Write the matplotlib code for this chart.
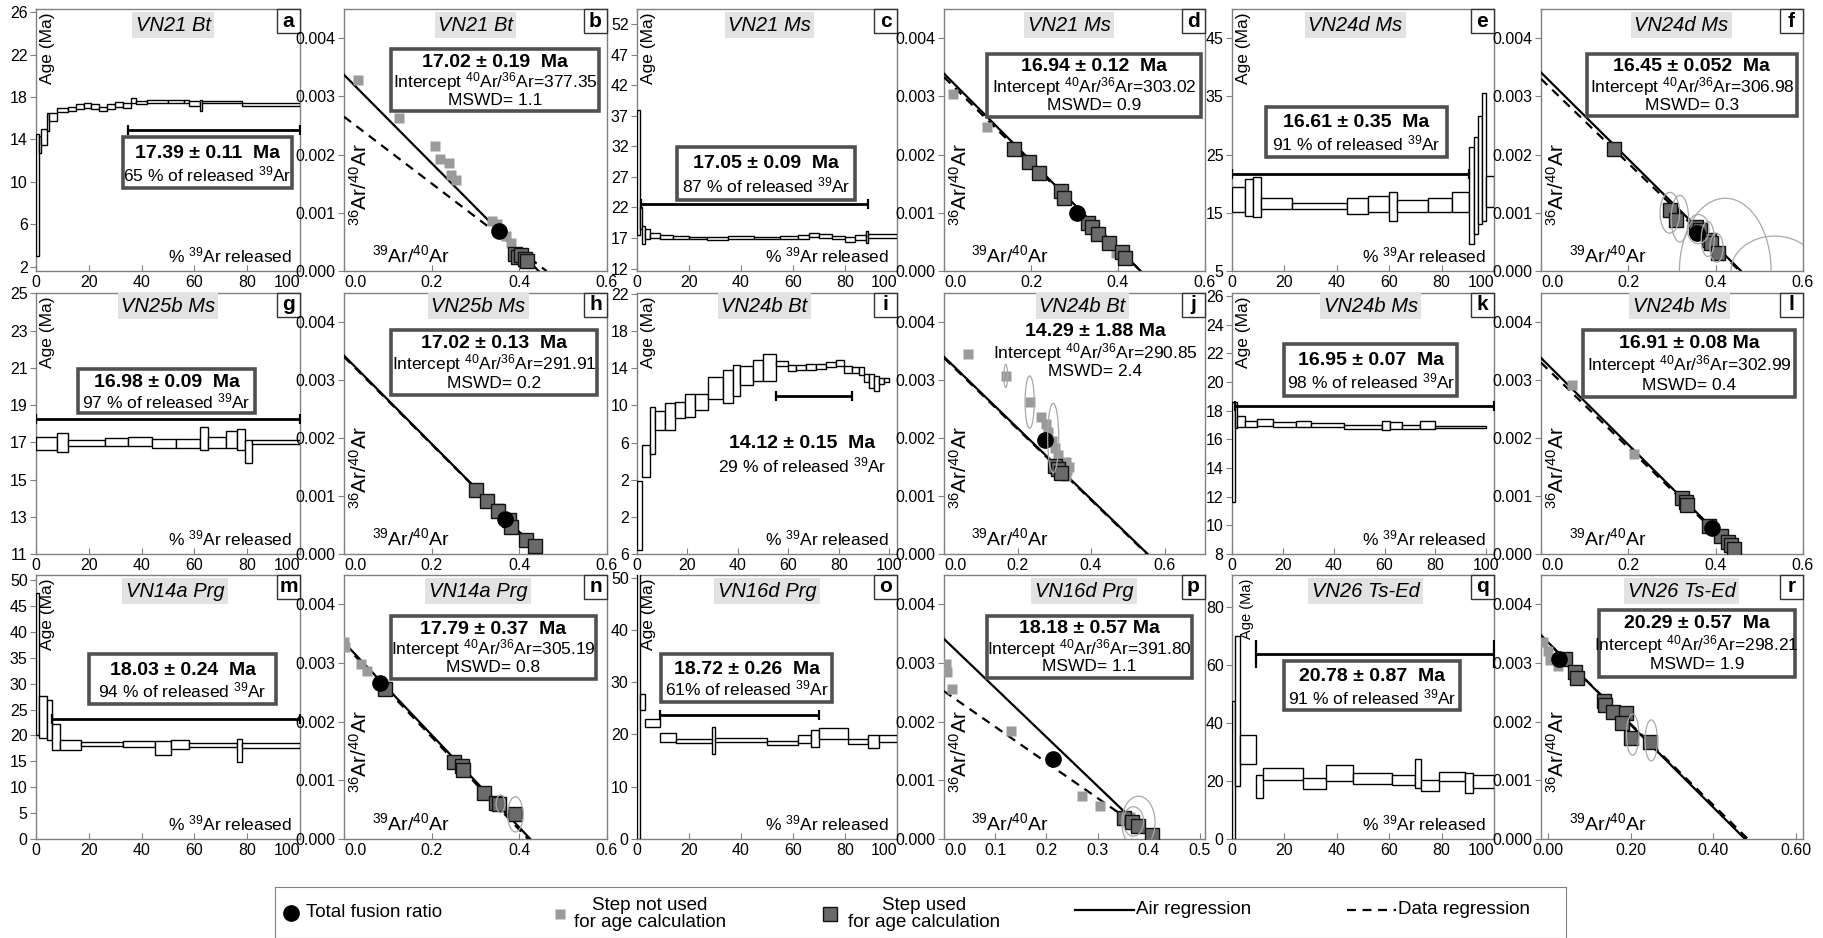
import matplotlib
matplotlib.use('Agg')
import matplotlib.pyplot as plt
from matplotlib.patches import Rectangle, Ellipse
from matplotlib.ticker import FuncFormatter, FormatStrFormatter
import numpy as np

FONT = 'Liberation Sans'
plt.rcParams['font.family'] = [FONT, 'DejaVu Sans']
plt.rcParams['mathtext.fontset'] = 'custom'
plt.rcParams['mathtext.rm'] = FONT
plt.rcParams['mathtext.it'] = FONT + ':italic'
plt.rcParams['mathtext.bf'] = FONT + ':bold'

# ---------------------------------------------------------------- data
# Step-heating spectra: cumulative % 39Ar edges, lower / upper age (Ma)
A_EDGES = [0, 1, 2, 4, 5, 8, 12, 15, 18, 21, 24, 27, 30, 33, 36, 38, 42, 50, 56, 58, 62, 63, 78, 100]
A_LO = [3.0, 12.7, 13.5, 14.8, 15.7, 16.6, 16.7, 16.9, 17.0, 16.9, 16.7, 16.9, 17.1, 17.0, 17.4, 17.3, 17.4, 17.45, 17.4, 17.2, 16.7, 17.4, 17.2]
A_HI = [14.5, 14.3, 15.0, 16.5, 16.5, 17.0, 17.1, 17.3, 17.4, 17.3, 17.1, 17.3, 17.5, 17.4, 17.9, 17.6, 17.7, 17.7, 17.7, 17.6, 17.7, 17.6, 17.4]
A_PLATEAU = [14.9, 35, 100]

C_EDGES = [0, 1, 2, 3, 5, 9, 14, 20, 27, 35, 45, 55, 62, 66, 70, 75, 80, 84, 88, 89, 100]
C_LO = [17.5, 18.5, 16.0, 16.8, 17.0, 16.9, 16.8, 16.8, 16.7, 16.8, 16.8, 16.9, 16.9, 17.1, 17.0, 16.8, 16.4, 16.7, 16.2, 17.0]
C_HI = [38.0, 22.0, 19.0, 18.5, 17.9, 17.5, 17.3, 17.2, 17.1, 17.3, 17.2, 17.3, 17.5, 17.9, 17.6, 17.4, 17.2, 17.5, 18.2, 17.6]
C_PLATEAU = [22.6, 1.5, 89]

E_EDGES = [0, 5, 8, 11, 23, 44, 52, 60, 63, 75, 84, 90.5, 92.5, 94, 95.5, 97, 100]
E_LO = [15.1, 14.5, 14.2, 15.6, 15.6, 14.8, 15.1, 13.6, 15.2, 15.2, 15.1, 9.6, 11.3, 13.0, 13.6, 16.0]
E_HI = [19.4, 20.8, 21.1, 17.5, 16.7, 17.5, 17.8, 18.5, 17.2, 17.6, 18.5, 26.3, 28.0, 31.7, 35.5, 21.3]
E_PLATEAU = [21.7, 0, 90.5]

G_EDGES = [0, 8, 12, 26, 35, 44, 53, 62, 65, 72, 76, 79, 82, 100]
G_LO = [16.6, 16.5, 16.8, 16.8, 16.8, 16.7, 16.7, 16.6, 16.7, 16.7, 16.6, 15.9, 16.9]
G_HI = [17.3, 17.5, 17.1, 17.25, 17.3, 17.2, 17.2, 17.8, 17.3, 17.6, 17.7, 17.1, 17.1]
G_PLATEAU = [18.27, 0, 100]

I_EDGES = [0, 2, 5, 7, 11, 15, 19, 23, 28, 34, 38, 41, 46, 50, 55, 60, 63, 67, 71, 75, 79, 82, 85, 88, 90, 92, 94, 96, 98, 100]
I_LO = [-5.6, 2.3, 4.8, 7.3, 7.4, 8.6, 8.8, 9.5, 10.7, 10.3, 11.0, 12.2, 12.6, 12.6, 14.25, 13.7, 13.8, 13.8, 13.9, 14.1, 14.25, 13.5, 13.5, 13.25, 12.5, 11.9, 11.6, 12.3, 12.5]
I_HI = [1.9, 5.7, 9.8, 9.4, 10.25, 10.4, 11.2, 11.2, 13.1, 13.8, 14.4, 14.25, 14.9, 15.5, 14.8, 14.4, 14.3, 14.5, 14.5, 14.7, 14.9, 14.25, 14.1, 14.1, 13.4, 13.4, 13.2, 13.0, 13.0]
I_PLATEAU = [10.96, 55, 85]

K_EDGES = [0, 1, 2, 5, 10, 16, 25, 31, 44, 59, 62, 67, 74, 80, 100]
K_LO = [11.6, 16.8, 16.85, 16.85, 16.9, 16.85, 16.85, 16.85, 16.7, 16.66, 16.7, 16.7, 16.7, 16.8]
K_HI = [18.6, 18.6, 17.65, 17.3, 17.4, 17.2, 17.24, 17.1, 17.0, 17.24, 17.2, 17.0, 17.24, 16.96]
K_PLATEAU = [18.35, 1, 103]

M_EDGES = [0, 1, 4, 6, 9, 17, 33, 45, 51, 58, 76, 78, 100]
M_LO = [20.0, 19.5, 19.2, 17.1, 17.1, 17.9, 17.7, 16.3, 17.3, 17.8, 14.8, 17.6]
M_HI = [47.5, 27.6, 26.9, 22.2, 19.1, 18.7, 18.9, 18.9, 19.2, 18.6, 19.3, 18.6]
M_PLATEAU = [23.2, 6, 100]

O_EDGES = [0, 1, 3, 9, 15, 29, 30, 50, 62, 67, 70, 81, 89, 93, 100]
O_LO = [0.0, 24.6, 21.4, 18.5, 18.3, 16.2, 18.5, 17.9, 18.3, 17.6, 19.2, 18.2, 17.4, 18.5]
O_HI = [51.0, 27.8, 23.0, 20.3, 19.2, 21.4, 19.4, 18.8, 19.8, 20.8, 21.3, 19.2, 19.8, 19.8]
O_PLATEAU = [23.8, 9, 70]

Q_EDGES = [0, 1, 3, 9, 12, 27, 36, 46, 61, 70, 72, 79, 89, 92, 100]
Q_LO = [0.0, 18.1, 25.8, 14.0, 20.3, 17.3, 19.9, 19.1, 18.7, 17.6, 16.4, 19.9, 15.8, 17.6]
Q_HI = [47.4, 69.9, 35.7, 22.2, 24.6, 21.0, 25.4, 22.6, 22.2, 27.5, 20.5, 23.1, 22.8, 22.2]
Q_PLATEAU = [63.6, 9, 100]

# Inverse isochrons: 39Ar/40Ar (x) vs 36Ar/40Ar (y)
B_GRAY_X = [0.033, 0.126, 0.207, 0.218, 0.240, 0.243, 0.255, 0.338, 0.350, 0.370, 0.380]
B_GRAY_Y = [0.00328, 0.00263, 0.00215, 0.00192, 0.00185, 0.00165, 0.00156, 0.00086, 0.00080, 0.00060, 0.00048]
B_DARK_X = [0.391, 0.398, 0.404, 0.413, 0.418]
B_DARK_Y = [0.00030, 0.00024, 0.00027, 0.00021, 0.00017]
B_TOTAL = [0.354, 0.00069]
B_AIR = [0.00337, 0.444]
B_FIT = [0.00265, 0.462]
B_ELL = []

D_GRAY_X = [0.021, 0.098, 0.395]
D_GRAY_Y = [0.00304, 0.00248, 0.00031]
D_DARK_X = [0.162, 0.195, 0.218, 0.270, 0.275, 0.330, 0.340, 0.355, 0.380, 0.410, 0.415]
D_DARK_Y = [0.00210, 0.00187, 0.00168, 0.00137, 0.00126, 0.00083, 0.00075, 0.00063, 0.00048, 0.00032, 0.00022]
D_TOTAL = [0.306, 0.00100]
D_AIR = [0.00339, 0.452]
D_FIT = [0.00333, 0.452]
D_ELL = []

F_GRAY_X = []
F_GRAY_Y = []
F_DARK_X = [0.168, 0.295, 0.310, 0.355, 0.365, 0.385, 0.390, 0.405]
F_DARK_Y = [0.00209, 0.00104, 0.00087, 0.00076, 0.00070, 0.00054, 0.00048, 0.00031]
F_TOTAL = [0.357, 0.00066]
F_AIR = [0.00341, 0.458]
F_FIT = [0.00330, 0.455]
F_ELL = [(0.295, 0.00100, 0.045, 0.0007), (0.318, 0.00090, 0.040, 0.0008),
         (0.360, 0.00072, 0.050, 0.0005), (0.382, 0.00055, 0.030, 0.0006),
         (0.402, 0.00040, 0.030, 0.0005), (0.422, 0.0, 0.210, 0.0025),
         (0.535, 0.0, 0.200, 0.0012)]

H_GRAY_X = [0.351]
H_GRAY_Y = [0.00080]
H_DARK_X = [0.300, 0.327, 0.351, 0.376, 0.382, 0.415, 0.436]
H_DARK_Y = [0.00111, 0.00092, 0.00074, 0.00059, 0.00046, 0.00025, 0.00013]
H_TOTAL = [0.367, 0.00061]
H_AIR = [0.00342, 0.450]
H_FIT = [0.00340, 0.450]
H_ELL = []

J_GRAY_X = [0.065, 0.168, 0.233, 0.264, 0.277, 0.284, 0.294, 0.302, 0.309, 0.331, 0.335, 0.331, 0.340]
J_GRAY_Y = [0.00344, 0.00307, 0.00262, 0.00236, 0.00225, 0.00210, 0.00195, 0.00182, 0.00170, 0.00158, 0.00145, 0.00135, 0.00150]
J_DARK_X = [0.303, 0.311, 0.319]
J_DARK_Y = [0.00152, 0.00146, 0.00140]
J_TOTAL = [0.274, 0.00196]
J_AIR = [0.00340, 0.554]
J_FIT = [0.00338, 0.552]
J_ELL = [(0.233, 0.00262, 0.025, 0.0009), (0.168, 0.00307, 0.010, 0.0004), (0.297, 0.00200, 0.030, 0.0012)]

L_GRAY_X = [0.072, 0.212]
L_GRAY_Y = [0.00291, 0.00173]
L_DARK_X = [0.322, 0.331, 0.334, 0.385, 0.412, 0.428, 0.434, 0.443]
L_DARK_Y = [0.00097, 0.00090, 0.00084, 0.00048, 0.00031, 0.00021, 0.00016, 0.00009]
L_TOTAL = [0.392, 0.00045]
L_AIR = [0.00338, 0.452]
L_FIT = [0.00330, 0.450]
L_ELL = []

N_GRAY_X = [0.000, 0.003, 0.038, 0.053]
N_GRAY_Y = [0.00335, 0.00328, 0.00299, 0.00286]
N_DARK_X = [0.093, 0.252, 0.269, 0.271, 0.320, 0.347, 0.353, 0.391]
N_DARK_Y = [0.00255, 0.00131, 0.00124, 0.00118, 0.00078, 0.00061, 0.00059, 0.00042]
N_TOTAL = [0.083, 0.00266]
N_AIR = [0.00335, 0.425]
N_FIT = [0.00332, 0.420]
N_ELL = [(0.391, 0.00042, 0.035, 0.0006), (0.357, 0.00060, 0.020, 0.0003)]

P_GRAY_X = [0.004, 0.005, 0.015, 0.131, 0.269, 0.304, 0.348, 0.364, 0.410]
P_GRAY_Y = [0.00298, 0.00285, 0.00255, 0.00184, 0.00073, 0.00056, 0.00037, 0.00037, 0.00004]
P_DARK_X = [0.352, 0.368, 0.379, 0.406]
P_DARK_Y = [0.00035, 0.00029, 0.00023, 0.00006]
P_TOTAL = [0.213, 0.00136]
P_AIR = [0.00341, 0.408]
P_FIT = [0.00252, 0.415]
P_ELL = [(0.380, 0.00028, 0.065, 0.0009), (0.370, 0.00030, 0.040, 0.0005)]

R_GRAY_X = [-0.010, 0.000, 0.005, 0.025]
R_GRAY_Y = [0.00335, 0.00320, 0.00305, 0.00295]
R_DARK_X = [0.042, 0.066, 0.070, 0.136, 0.139, 0.157, 0.189, 0.180, 0.200, 0.248]
R_DARK_Y = [0.00306, 0.00285, 0.00274, 0.00236, 0.00229, 0.00217, 0.00215, 0.00198, 0.00173, 0.00166]
R_TOTAL = [0.028, 0.00307]
R_AIR = [0.00336, 0.476]
R_FIT = [0.00335, 0.483]
R_ELL = [(0.205, 0.00178, 0.030, 0.0007), (0.250, 0.00168, 0.030, 0.0007)]

# Texts
SAMPLES = ['VN21 Bt', 'VN21 Ms', 'VN24d Ms', 'VN25b Ms', 'VN24b Bt', 'VN24b Ms',
           'VN14a Prg', 'VN16d Prg', 'VN26 Ts-Ed']
PLATEAU_AGES = ['17.39 ± 0.11  Ma', '17.05 ± 0.09  Ma', '16.61 ± 0.35  Ma',
                '16.98 ± 0.09  Ma', '14.12 ± 0.15  Ma', '16.95 ± 0.07  Ma',
                '18.03 ± 0.24  Ma', '18.72 ± 0.26  Ma', '20.78 ± 0.87  Ma']
PLATEAU_PCT = ['65 %', '87 %', '91 %', '97 %', '29 %', '98 %', '94 %', '61%', '91 %']
ISO_AGES = ['17.02 ± 0.19  Ma', '16.94 ± 0.12  Ma', '16.45 ± 0.052  Ma',
            '17.02 ± 0.13  Ma', '14.29 ± 1.88 Ma', '16.91 ± 0.08 Ma',
            '17.79 ± 0.37  Ma', '18.18 ± 0.57 Ma', '20.29 ± 0.57  Ma']
ISO_INTERCEPTS = ['377.35', '303.02', '306.98', '291.91', '290.85', '302.99',
                  '305.19', '391.80', '298.21']
ISO_MSWD = ['1.1', '0.9', '0.3', '0.2', '2.4', '0.4', '0.8', '1.1', '1.9']
LETTERS = list('abcdefghijklmnopqr')
LEGEND_LABELS = ['Total fusion ratio', 'Step not used\nfor age calculation',
                 'Step used\nfor age calculation', 'Air regression', 'Data regression']

# ---------------------------------------------------------------- layout / style
W, H = 1824, 938
COLS = [(36, 300), (344, 607), (637, 897), (944, 1205), (1232, 1494), (1541, 1803)]
ROWS = [(9, 271), (293, 554), (575, 839)]
TITLE_Y = [0.938, 0.950, 0.938]
SPINE = '#808080'
GRAY_MK = '#9a9a9a'
DARK_MK = '#6a6a6a'

fig = plt.figure(figsize=(W / 100, H / 100), dpi=100)


def make_ax(r, c):
    x0, x1 = COLS[c]
    y0, y1 = ROWS[r]
    ax = fig.add_axes([x0 / W, 1 - y1 / H, (x1 - x0) / W, (y1 - y0) / H])
    for s in ax.spines.values():
        s.set_color(SPINE)
        s.set_linewidth(1.0)
    ax.tick_params(axis='y', direction='out', length=4, color=SPINE, labelsize=11.5, pad=2)
    ax.tick_params(axis='x', direction='in', length=4, color=SPINE, labelsize=11.5, pad=3)
    return ax


def decorate(ax, r, title, tx, letter):
    ax.text(tx, TITLE_Y[r], title, transform=ax.transAxes, ha='center', va='center',
            fontsize=14.5, style='italic', zorder=8,
            bbox=dict(facecolor='#e2e2e2', edgecolor='none', pad=2.5))
    bw, bh = 23 / ax.bbox.width, 24 / ax.bbox.height
    ax.add_patch(Rectangle((1 - bw, 1 - bh), bw, bh, transform=ax.transAxes,
                           facecolor='white', edgecolor='#333333', lw=1.0, zorder=9,
                           clip_on=False))
    ax.text(1 - bw / 2, 1 - bh / 2, letter, transform=ax.transAxes, ha='center',
            va='center', fontsize=15, fontweight='bold', zorder=10)


def frame(ax, rect):
    x0, y0, x1, y1 = rect
    ax.add_patch(Rectangle((x0, y0), x1 - x0, y1 - y0, transform=ax.transAxes,
                           facecolor='white', edgecolor='#505050', lw=2.6, zorder=6))


def step_panel(r, c, idx, edges, lo, hi, plateau, ylim, yticks, xmax, rect, title_x,
               cap=7, age_fs=12.5, age_x=0.045, fmt=None, boxed=True, text_pos=None):
    ax = make_ax(r, c)
    edges = np.asarray(edges, float)
    lo = np.asarray(lo, float)
    hi = np.asarray(hi, float)
    ax.bar(edges[:-1], hi - lo, np.diff(edges), bottom=lo, align='edge',
           facecolor='white', edgecolor='black', linewidth=1.0, zorder=3)
    py, px0, px1 = plateau
    ax.plot([px0, px1], [py, py], color='black', lw=2.0, zorder=4, solid_capstyle='butt')
    ax.plot([px0, px1], [py, py], ls='none', marker='|', ms=cap, mew=1.6, color='black', zorder=4)
    ax.set_xlim(0, xmax)
    ax.set_ylim(*ylim)
    ax.set_xticks([0, 20, 40, 60, 80, 100])
    ax.set_yticks(yticks)
    if fmt is not None:
        ax.yaxis.set_major_formatter(fmt)
    if xmax <= 100:
        ax.get_xticklabels()[-1].set_horizontalalignment('right')
    ax.text(age_x, 0.985, 'Age (Ma)', transform=ax.transAxes, rotation=90,
            ha='center', va='top', fontsize=age_fs, zorder=7)
    ax.text(0.97, 0.02, r'% $^{39}$Ar released', transform=ax.transAxes,
            ha='right', va='bottom', fontsize=12.5, zorder=7)
    l1 = PLATEAU_AGES[idx]
    l2 = PLATEAU_PCT[idx] + r' of released $^{39}$Ar'
    if boxed:
        frame(ax, rect)
        x0, y0, x1, y1 = rect
        cx = (x0 + x1) / 2
        ax.text(cx, y0 + 0.68 * (y1 - y0), l1, transform=ax.transAxes, ha='center',
                va='center', fontsize=14, fontweight='bold', zorder=7)
        ax.text(cx, y0 + 0.27 * (y1 - y0), l2, transform=ax.transAxes, ha='center',
                va='center', fontsize=12.5, zorder=7)
    else:
        (cx, ya, yb) = text_pos
        ax.text(cx, ya, l1, transform=ax.transAxes, ha='center', va='center',
                fontsize=14, fontweight='bold', zorder=7)
        ax.text(cx, yb, l2, transform=ax.transAxes, ha='center', va='center',
                fontsize=12.5, zorder=7)
    decorate(ax, r, SAMPLES[idx], title_x, LETTERS[2 * idx])
    return ax


def iso_panel(r, c, idx, gx, gy, dx, dy, total, air, fit, ells, xlim, xticks, rect,
              title_x, xfmt='%.1f', boxed=True, text_pos=None):
    ax = make_ax(r, c)
    ax.set_xlim(*xlim)
    ax.set_ylim(0, 0.0045)
    ax.set_xticks(xticks)
    ax.set_yticks([0, 0.001, 0.002, 0.003, 0.004])
    ax.yaxis.set_major_formatter(FormatStrFormatter('%.3f'))
    ax.xaxis.set_major_formatter(FormatStrFormatter(xfmt))
    if xlim[0] >= 0:
        ax.get_xticklabels()[0].set_horizontalalignment('left')
    for (y0, x0), style in ((air, '-'), (fit, '--')):
        xs = np.array([xlim[0], x0])
        ys = y0 * (1 - xs / x0)
        if style == '-':
            ax.plot(xs, ys, color='black', lw=1.6, zorder=3)
        else:
            ax.plot(xs, ys, color='black', lw=1.6, ls=(0, (4, 3)), zorder=3)
    if gx:
        ax.plot(gx, gy, 's', ms=6.5, color=GRAY_MK, mec='none', zorder=4)
    ax.plot(dx, dy, 's', ms=9.5, mfc=DARK_MK, mec='#111111', mew=1.0, zorder=4)
    ax.plot([total[0]], [total[1]], 'o', ms=11, color='black', zorder=5)
    for (ex, ey, ew, eh) in ells:
        ax.add_patch(Ellipse((ex, ey), ew, eh, facecolor='none', edgecolor='#a8a8a8',
                             lw=0.9, zorder=5))
    ax.text(0.06, 0.33, r'$^{36}$Ar/$^{40}$Ar', transform=ax.transAxes, rotation=90,
            ha='center', va='center', fontsize=15, zorder=7)
    ax.text(0.105, 0.02, r'$^{39}$Ar/$^{40}$Ar', transform=ax.transAxes,
            ha='left', va='bottom', fontsize=14, zorder=7)
    l1 = ISO_AGES[idx]
    l2 = r'Intercept $^{40}$Ar/$^{36}$Ar=' + ISO_INTERCEPTS[idx]
    l3 = 'MSWD= ' + ISO_MSWD[idx]
    if boxed:
        frame(ax, rect)
        x0, y0, x1, y1 = rect
        cx = (x0 + x1) / 2
        h = y1 - y0
        ax.text(cx, y0 + 0.79 * h, l1, transform=ax.transAxes, ha='center', va='center',
                fontsize=14, fontweight='bold', zorder=7)
        ax.text(cx, y0 + 0.48 * h, l2, transform=ax.transAxes, ha='center', va='center',
                fontsize=12.5, zorder=7)
        ax.text(cx, y0 + 0.18 * h, l3, transform=ax.transAxes, ha='center', va='center',
                fontsize=12.5, zorder=7)
    else:
        cx, ya, yb, yc = text_pos
        ax.text(cx, ya, l1, transform=ax.transAxes, ha='center', va='center',
                fontsize=14, fontweight='bold', zorder=7)
        ax.text(cx, yb, l2, transform=ax.transAxes, ha='center', va='center',
                fontsize=12.5, zorder=7)
        ax.text(cx, yc, l3, transform=ax.transAxes, ha='center', va='center',
                fontsize=12.5, zorder=7)
    decorate(ax, r, SAMPLES[idx], title_x, LETTERS[2 * idx + 1])
    return ax


X6 = [0.0, 0.2, 0.4, 0.6]
XL6 = (0, 0.6)

# Row 1
step_panel(0, 0, 0, A_EDGES, A_LO, A_HI, A_PLATEAU, (1.6, 26.3), np.arange(2, 27, 4), 100,
           (0.33, 0.315, 0.97, 0.51), 0.52)
iso_panel(0, 1, 0, B_GRAY_X, B_GRAY_Y, B_DARK_X, B_DARK_Y, B_TOTAL, B_AIR, B_FIT, B_ELL,
          XL6, X6, (0.18, 0.61, 0.97, 0.847), 0.50)
step_panel(0, 2, 1, C_EDGES, C_LO, C_HI, C_PLATEAU, (11.6, 54.5), np.arange(12, 53, 5), 100,
           (0.155, 0.27, 0.84, 0.475), 0.51)
iso_panel(0, 3, 1, D_GRAY_X, D_GRAY_Y, D_DARK_X, D_DARK_Y, D_TOTAL, D_AIR, D_FIT, D_ELL,
          XL6, X6, (0.164, 0.587, 0.985, 0.83), 0.48)
step_panel(0, 4, 2, E_EDGES, E_LO, E_HI, E_PLATEAU, (5, 50), np.arange(5, 46, 10), 100,
           (0.13, 0.436, 0.82, 0.626), 0.47)
iso_panel(0, 5, 2, F_GRAY_X, F_GRAY_Y, F_DARK_X, F_DARK_Y, F_TOTAL, F_AIR, F_FIT, F_ELL,
          XL6, X6, (0.175, 0.59, 0.977, 0.83), 0.535)

# Row 2
step_panel(1, 0, 3, G_EDGES, G_LO, G_HI, G_PLATEAU, (11, 25.02), np.arange(11, 26, 2), 100,
           (0.16, 0.54, 0.83, 0.71), 0.50)
iso_panel(1, 1, 3, H_GRAY_X, H_GRAY_Y, H_DARK_X, H_DARK_Y, H_TOTAL, H_AIR, H_FIT, H_ELL,
          XL6, X6, (0.178, 0.61, 0.963, 0.86), 0.51)
step_panel(1, 2, 4, I_EDGES, I_LO, I_HI, I_PLATEAU, (-6, 22.1), np.arange(-6, 23, 4), 103,
           None, 0.49, fmt=FuncFormatter(lambda v, p: '%d' % abs(round(v))),
           boxed=False, text_pos=(0.635, 0.425, 0.34))
iso_panel(1, 3, 4, J_GRAY_X, J_GRAY_Y, J_DARK_X, J_DARK_Y, J_TOTAL, J_AIR, J_FIT, J_ELL,
          (0, 0.71), X6, None, 0.53, boxed=False, text_pos=(0.58, 0.853, 0.77, 0.70))
step_panel(1, 4, 5, K_EDGES, K_LO, K_HI, K_PLATEAU, (8, 26.2), np.arange(8, 27, 2), 103,
           (0.2, 0.606, 0.86, 0.805), 0.53)
iso_panel(1, 5, 5, L_GRAY_X, L_GRAY_Y, L_DARK_X, L_DARK_Y, L_TOTAL, L_AIR, L_FIT, L_ELL,
          XL6, X6, (0.16, 0.6, 0.97, 0.86), 0.53)

# Row 3
step_panel(2, 0, 6, M_EDGES, M_LO, M_HI, M_PLATEAU, (0, 51), np.arange(0, 51, 5), 100,
           (0.2, 0.51, 0.91, 0.70), 0.526)
iso_panel(2, 1, 6, N_GRAY_X, N_GRAY_Y, N_DARK_X, N_DARK_Y, N_TOTAL, N_AIR, N_FIT, N_ELL,
          XL6, X6, (0.178, 0.605, 0.958, 0.845), 0.51)
step_panel(2, 2, 7, O_EDGES, O_LO, O_HI, O_PLATEAU, (0, 50.5), np.arange(0, 51, 10), 100,
           (0.094, 0.52, 0.75, 0.70), 0.50)
iso_panel(2, 3, 7, P_GRAY_X, P_GRAY_Y, P_DARK_X, P_DARK_Y, P_TOTAL, P_AIR, P_FIT, P_ELL,
          (0, 0.51), [0, 0.1, 0.2, 0.3, 0.4, 0.5], (0.163, 0.61, 0.95, 0.845), 0.536)
step_panel(2, 4, 8, Q_EDGES, Q_LO, Q_HI, Q_PLATEAU, (0, 91), np.arange(0, 81, 20), 100,
           (0.2, 0.487, 0.87, 0.675), 0.51, cap=20, age_fs=10.5, age_x=0.057)
iso_panel(2, 5, 8, R_GRAY_X, R_GRAY_Y, R_DARK_X, R_DARK_Y, R_TOTAL, R_AIR, R_FIT, R_ELL,
          (-0.016, 0.616), X6, (0.22, 0.615, 0.97, 0.868), 0.537, xfmt='%.2f')

# Legend
lax = fig.add_axes([275 / W, 0, 1291 / W, 51 / H])
lax.set_xlim(0, 1)
lax.set_ylim(0, 1)
lax.set_xticks([])
lax.set_yticks([])
for s in lax.spines.values():
    s.set_color(SPINE)
LFS = 13.5
lax.plot([0.0124], [0.50], 'o', ms=11, color='black')
lax.text(0.024, 0.50, LEGEND_LABELS[0], va='center', fontsize=LFS)
lax.plot([0.2208], [0.47], 's', ms=6.5, color=GRAY_MK, mec='none')
lax.text(0.2905, 0.47, LEGEND_LABELS[1], ha='center', va='center',
         fontsize=LFS, linespacing=1.05)
lax.plot([0.430], [0.47], 's', ms=9.5, mfc=DARK_MK, mec='#111111', mew=1.0)
lax.text(0.5027, 0.47, LEGEND_LABELS[2], ha='center', va='center',
         fontsize=LFS, linespacing=1.05)
lax.plot([0.6196, 0.6654], [0.55, 0.55], color='black', lw=1.6)
lax.text(0.667, 0.55, LEGEND_LABELS[3], va='center', fontsize=LFS)
lax.plot([0.8304, 0.8683], [0.55, 0.55], color='black', lw=1.6, ls=(0, (4, 3)))
lax.text(0.8698, 0.55, LEGEND_LABELS[4], va='center', fontsize=LFS)

fig.savefig('out.png', dpi=100)
